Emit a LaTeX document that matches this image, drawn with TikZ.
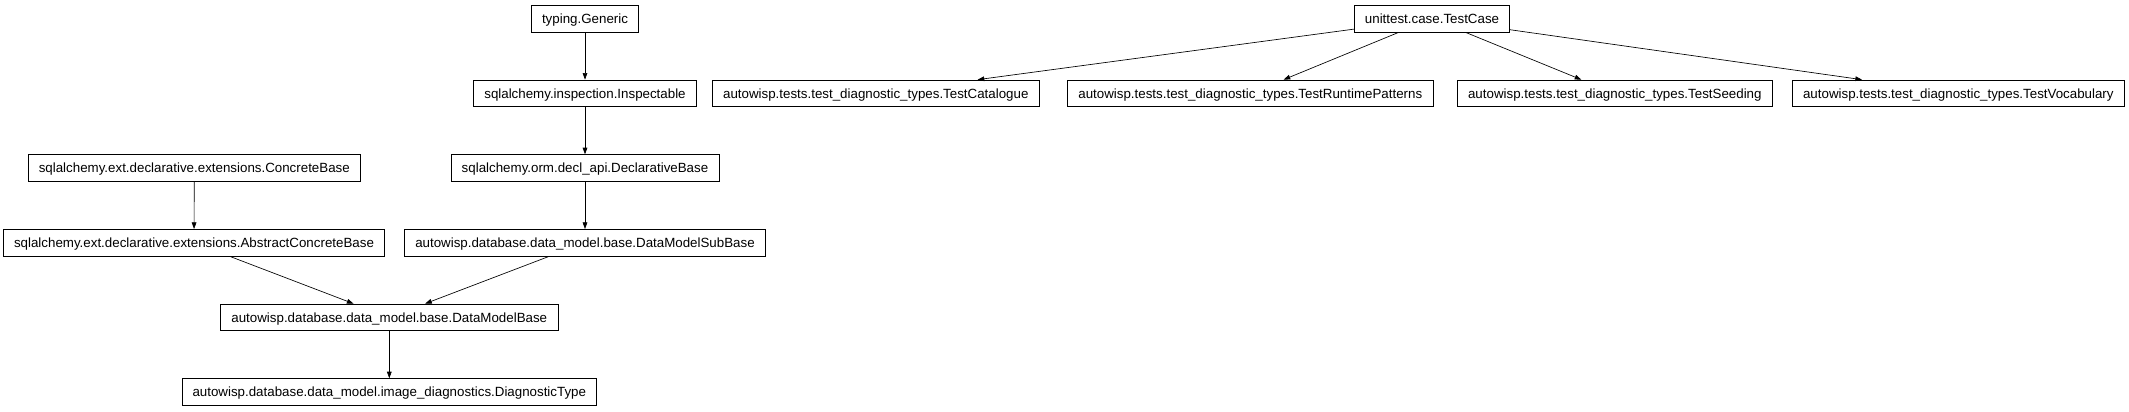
\documentclass[tikz,border=0pt]{standalone}
\usepackage{fontspec}
\setmainfont{Liberation Sans}
\usetikzlibrary{arrows.meta}
\begin{document}
\begin{tikzpicture}[x=0.75pt,y=-0.75pt,
  cls/.style={draw=black,line width=0.5pt,fill=white,minimum height=20pt,inner xsep=8pt,inner ysep=0pt,
    text height=9pt,text depth=2pt,font=\fontsize{10pt}{12pt}\selectfont},
  inh/.style={draw=black,line width=0.5pt,-{Triangle[length=5pt,width=3.5pt]}}]
\useasboundingbox (0,0) rectangle (2129,411);
% ranks
\node[cls] (gen) at (585,18.67) {typing.Generic};
\node[cls] (insp) at (585,93.33) {sqlalchemy.inspection.Inspectable};
\node[cls] (decl) at (585,168) {sqlalchemy.orm.decl\_api.DeclarativeBase};
\node[cls] (sub) at (585,242.67) {autowisp.database.data\_model.base.DataModelSubBase};
\node[cls] (conc) at (194.3,168) {sqlalchemy.ext.declarative.extensions.ConcreteBase};
\node[cls] (abs) at (194,242.67) {sqlalchemy.ext.declarative.extensions.AbstractConcreteBase};
\node[cls] (dmb) at (389.3,317.33) {autowisp.database.data\_model.base.DataModelBase};
\node[cls] (diag) at (389.3,392) {autowisp.database.data\_model.image\_diagnostics.DiagnosticType};
\node[cls] (tc) at (1432,18.67) {unittest.case.TestCase};
\node[cls] (tcat) at (875.8,93.33) {autowisp.tests.test\_diagnostic\_types.TestCatalogue};
\node[cls] (trun) at (1250.3,93.33) {autowisp.tests.test\_diagnostic\_types.TestRuntimePatterns};
\node[cls] (tseed) at (1614.8,93.33) {autowisp.tests.test\_diagnostic\_types.TestSeeding};
\node[cls] (tvoc) at (1958.3,93.33) {autowisp.tests.test\_diagnostic\_types.TestVocabulary};
% edges
\draw[inh] (gen) -- (insp);
\draw[inh] (insp) -- (decl);
\draw[inh] (decl) -- (sub);
\draw[inh] (conc) -- (abs);
\draw[inh] (abs) -- (dmb);
\draw[inh] (sub) -- (dmb);
\draw[inh] (dmb) -- (diag);
\draw[inh] (tc) -- (tcat);
\draw[inh] (tc) -- (trun);
\draw[inh] (tc) -- (tseed);
\draw[inh] (tc) -- (tvoc);
\end{tikzpicture}
\end{document}
